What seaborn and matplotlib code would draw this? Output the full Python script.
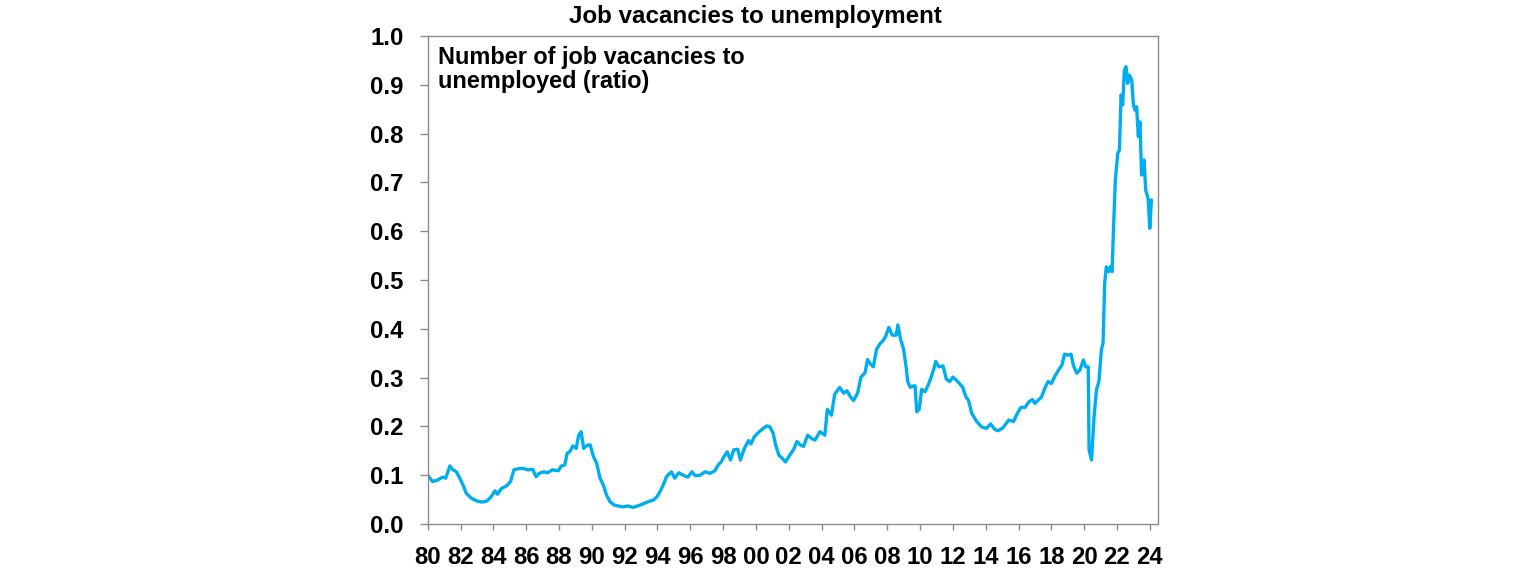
import matplotlib
matplotlib.use("Agg")
import matplotlib.pyplot as plt
import seaborn as sns
import pandas as pd

years = [
    1980.0, 1980.3, 1980.6, 1980.9, 1981.1, 1981.35, 1981.5, 1981.75, 1981.95, 1982.15,
    1982.35, 1982.65, 1983.0, 1983.3, 1983.6, 1983.85, 1984.1, 1984.25, 1984.5, 1984.8,
    1985.05, 1985.25, 1985.5, 1985.8, 1986.1, 1986.4, 1986.6, 1986.8, 1987.1, 1987.3,
    1987.6, 1987.95, 1988.15, 1988.35, 1988.5, 1988.65, 1988.85, 1989.05, 1989.2, 1989.35,
    1989.5, 1989.75, 1989.9, 1990.1, 1990.3, 1990.5, 1990.7, 1990.9, 1991.1, 1991.35,
    1991.6, 1991.9, 1992.2, 1992.5, 1992.8, 1993.1, 1993.45, 1993.75, 1993.95, 1994.15,
    1994.35, 1994.55, 1994.85, 1995.05, 1995.3, 1995.55, 1995.85, 1996.1, 1996.3, 1996.6,
    1996.9, 1997.2, 1997.5, 1997.7, 1997.9, 1998.05, 1998.25, 1998.45, 1998.65, 1998.9,
    1999.05, 1999.3, 1999.55, 1999.7, 1999.9, 2000.2, 2000.45, 2000.65, 2000.85, 2001.05,
    2001.2, 2001.4, 2001.6, 2001.8, 2002.0, 2002.3, 2002.5, 2002.7, 2002.9, 2003.15,
    2003.4, 2003.6, 2003.9, 2004.2, 2004.35, 2004.6, 2004.8, 2005.1, 2005.35, 2005.55,
    2005.75, 2005.95, 2006.2, 2006.4, 2006.65, 2006.8, 2006.95, 2007.15, 2007.35, 2007.55,
    2007.75, 2007.9, 2008.1, 2008.3, 2008.55, 2008.65, 2008.8, 2009.0, 2009.15, 2009.25,
    2009.4, 2009.6, 2009.7, 2009.8, 2009.95, 2010.1, 2010.3, 2010.5, 2010.7, 2010.85,
    2010.95, 2011.15, 2011.4, 2011.6, 2011.8, 2012.0, 2012.2, 2012.4, 2012.6, 2012.8,
    2012.95, 2013.15, 2013.45, 2013.75, 2014.05, 2014.3, 2014.55, 2014.75, 2015.05, 2015.4,
    2015.7, 2015.9, 2016.15, 2016.4, 2016.65, 2016.85, 2017.0, 2017.2, 2017.4, 2017.6,
    2017.8, 2018.0, 2018.25, 2018.45, 2018.65, 2018.8, 2019.0, 2019.2, 2019.35, 2019.55,
    2019.75, 2019.95, 2020.1, 2020.25, 2020.3, 2020.45, 2020.6, 2020.75, 2020.9, 2021.05,
    2021.15, 2021.25, 2021.35, 2021.5, 2021.6, 2021.7, 2021.8, 2021.9, 2022.05, 2022.15,
    2022.25, 2022.35, 2022.45, 2022.55, 2022.65, 2022.75, 2022.9, 2023.0, 2023.1, 2023.2,
    2023.3, 2023.4, 2023.5, 2023.65, 2023.75, 2023.9, 2024.0, 2024.1,
]

ratio = [
    0.100, 0.087, 0.090, 0.096, 0.094, 0.119, 0.112, 0.107, 0.094, 0.080,
    0.063, 0.053, 0.047, 0.045, 0.047, 0.055, 0.068, 0.061, 0.073, 0.078,
    0.087, 0.111, 0.113, 0.114, 0.111, 0.112, 0.097, 0.104, 0.107, 0.105,
    0.111, 0.109, 0.119, 0.121, 0.145, 0.148, 0.160, 0.155, 0.182, 0.189,
    0.155, 0.162, 0.162, 0.138, 0.124, 0.094, 0.080, 0.059, 0.046, 0.039,
    0.037, 0.035, 0.037, 0.034, 0.037, 0.041, 0.046, 0.049, 0.055, 0.066,
    0.080, 0.097, 0.107, 0.094, 0.105, 0.100, 0.096, 0.107, 0.099, 0.100,
    0.107, 0.104, 0.109, 0.121, 0.128, 0.138, 0.148, 0.131, 0.152, 0.153,
    0.131, 0.155, 0.171, 0.164, 0.179, 0.189, 0.196, 0.201, 0.199, 0.186,
    0.162, 0.141, 0.135, 0.127, 0.138, 0.153, 0.169, 0.162, 0.159, 0.182,
    0.175, 0.172, 0.189, 0.182, 0.235, 0.223, 0.266, 0.280, 0.268, 0.273,
    0.261, 0.253, 0.269, 0.301, 0.310, 0.337, 0.329, 0.322, 0.358, 0.369,
    0.376, 0.384, 0.403, 0.387, 0.387, 0.408, 0.380, 0.358, 0.322, 0.292,
    0.280, 0.283, 0.283, 0.230, 0.235, 0.276, 0.271, 0.285, 0.303, 0.319,
    0.333, 0.322, 0.324, 0.297, 0.292, 0.301, 0.295, 0.288, 0.280, 0.260,
    0.254, 0.227, 0.210, 0.199, 0.196, 0.205, 0.194, 0.191, 0.197, 0.213,
    0.210, 0.225, 0.239, 0.239, 0.251, 0.255, 0.247, 0.254, 0.260, 0.278,
    0.292, 0.288, 0.305, 0.316, 0.326, 0.348, 0.346, 0.348, 0.324, 0.309,
    0.316, 0.336, 0.322, 0.322, 0.152, 0.131, 0.218, 0.275, 0.292, 0.357,
    0.370, 0.493, 0.527, 0.517, 0.527, 0.517, 0.616, 0.705, 0.760, 0.766,
    0.879, 0.859, 0.930, 0.937, 0.903, 0.920, 0.910, 0.859, 0.848, 0.855,
    0.794, 0.824, 0.715, 0.746, 0.684, 0.667, 0.606, 0.664,
]

tick_years = list(range(1980, 2025, 2))
tick_labels = [f"{y % 100:02d}" for y in tick_years]
y_ticks = [0.0, 0.1, 0.2, 0.3, 0.4, 0.5, 0.6, 0.7, 0.8, 0.9, 1.0]

title = "Job vacancies to unemployment"
note = "Number of job vacancies to\nunemployed (ratio)"

sns.set_style("white")
plt.rcParams["font.family"] = ["Liberation Sans", "DejaVu Sans"]
plt.rcParams["font.weight"] = "bold"
plt.rcParams["text.color"] = "black"
plt.rcParams["xtick.labelcolor"] = "black"
plt.rcParams["ytick.labelcolor"] = "black"

df = pd.DataFrame({"year": years, "ratio": ratio})

fig = plt.figure(figsize=(15.36, 5.71), dpi=100)
ax = fig.add_axes([427.7 / 1536, 47 / 571, (1158 - 427.7) / 1536, (524 - 36) / 571])

sns.lineplot(data=df, x="year", y="ratio", ax=ax, color="#00AEEF", linewidth=2.4)

ax.set_xlim(1980, 2024.5)
ax.set_ylim(0, 1.0)
ax.set_xticks(tick_years)
ax.set_xticklabels(tick_labels)
ax.set_yticks(y_ticks)
ax.set_yticklabels([f"{v:.1f}" for v in y_ticks])
ax.set_xlabel("")
ax.set_ylabel("")

for s in ax.spines.values():
    s.set_color("#8c8c8c")
    s.set_linewidth(1.0)

ax.tick_params(axis="x", direction="out", length=4.5, width=1.0, color="#8c8c8c",
               pad=11, labelsize=17.2, labelcolor="black", bottom=True)
ax.tick_params(axis="y", direction="out", length=5.5, width=1.0, color="#8c8c8c",
               pad=12, labelsize=17.2, labelcolor="black", left=True)
for lab in ax.get_xticklabels() + ax.get_yticklabels():
    lab.set_fontweight("bold")

fig.text(755.5 / 1536, 1 - 23 / 571, title, ha="center", va="baseline",
         fontsize=17.4, fontweight="bold", color="black")
ax.text(438 / 1536, 1 - 46 / 571, note, transform=fig.transFigure, ha="left", va="top",
        fontsize=16.9, fontweight="bold", color="black", linespacing=1.05)

fig.savefig("out.png", dpi=100)
